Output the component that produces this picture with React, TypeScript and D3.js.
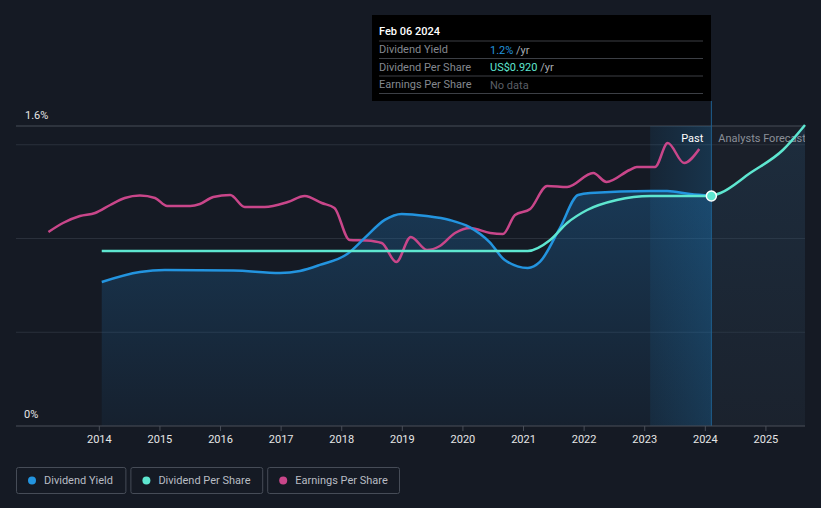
import { useMemo } from 'react'
import { scaleLinear, line, area, curveMonotoneX } from 'd3'

// Dividend yield / DPS / EPS history chart, dark theme.
// x values are decimal years.

const dyYears = [2014.04, 2014.67, 2015.08, 2016.21, 2016.98, 2017.31, 2017.64, 2018.09, 2018.38, 2018.71, 2018.99, 2019.4, 2019.78, 2020.11, 2020.44, 2020.69, 2021.07, 2021.27, 2021.6, 2021.9, 2022.1, 2023.09, 2023.37, 2023.75, 2024.1]
const dyValues = [0.768, 0.821, 0.832, 0.829, 0.816, 0.827, 0.859, 0.917, 1.003, 1.099, 1.131, 1.12, 1.099, 1.061, 0.981, 0.885, 0.843, 0.875, 1.056, 1.232, 1.243, 1.253, 1.253, 1.237, 1.227]

const dpsYears = [2014.04, 2021.07, 2021.44, 2021.72, 2022.05, 2022.54, 2023.09, 2024.1]
const dpsValues = [0.7, 0.7, 0.744, 0.812, 0.864, 0.904, 0.92, 0.92]
const dpsForecastYears = [2024.1, 2024.25, 2024.74, 2025.28, 2025.645]
const dpsForecastValues = [0.92, 0.932, 1.012, 1.104, 1.204]

const epsYears = [2013.16, 2013.4, 2013.68, 2013.93, 2014.18, 2014.42, 2014.67, 2014.92, 2015.12, 2015.5, 2015.66, 2015.88, 2016.16, 2016.4, 2016.73, 2017.11, 2017.39, 2017.67, 2017.88, 2018.13, 2018.41, 2018.66, 2018.9, 2019.14, 2019.41, 2019.62, 2019.87, 2020.12, 2020.45, 2020.66, 2020.86, 2021.11, 2021.39, 2021.72, 2022.15, 2022.37, 2022.75, 2022.87, 2023.17, 2023.38, 2023.65, 2023.9]
const epsValues = [1.94, 2.03, 2.1, 2.13, 2.21, 2.28, 2.305, 2.28, 2.2, 2.2, 2.22, 2.29, 2.31, 2.19, 2.19, 2.24, 2.3, 2.23, 2.18, 1.86, 1.855, 1.83, 1.64, 1.89, 1.76, 1.8, 1.93, 1.98, 1.93, 1.92, 2.11, 2.17, 2.4, 2.39, 2.53, 2.44, 2.56, 2.59, 2.59, 2.83, 2.63, 2.77]

const tickYears = [2014, 2015, 2016, 2017, 2018, 2019, 2020, 2021, 2022, 2023, 2024, 2025]
const yGrid = [0.5, 1.0, 1.5]
const pastStart = 2023.09
const nowYear = 2024.1

const legendItems = [
  { label: 'Dividend Yield', color: '#2394df' },
  { label: 'Dividend Per Share', color: '#5ee6d0' },
  { label: 'Earnings Per Share', color: '#c9468a' },
]

const W = 821
const H = 508
const PLOT = { left: 16, right: 805, top: 126, bottom: 426 }
const FONT = 'Roboto, "Open Sans", sans-serif'

type Pt = [number, number]
const zip = (xs: number[], ys: number[]): Pt[] => xs.map((x, i) => [x, ys[i]])

export default function App() {
  const x = useMemo(() => scaleLinear().domain([2012.625, 2025.645]).range([PLOT.left, PLOT.right]), [])
  const yDY = useMemo(() => scaleLinear().domain([0, 1.6]).range([PLOT.bottom, PLOT.top]), [])
  const yDPS = useMemo(() => scaleLinear().domain([0, 1.2]).range([PLOT.bottom, PLOT.top]), [])
  const yEPS = useMemo(() => scaleLinear().domain([0, 3.0]).range([PLOT.bottom, PLOT.top]), [])

  const dyLine = line<Pt>().x((d) => x(d[0])).y((d) => yDY(d[1])).curve(curveMonotoneX)
  const dyArea = area<Pt>().x((d) => x(d[0])).y0(PLOT.bottom).y1((d) => yDY(d[1])).curve(curveMonotoneX)
  const dpsLine = line<Pt>().x((d) => x(d[0])).y((d) => yDPS(d[1])).curve(curveMonotoneX)
  const dpsArea = area<Pt>().x((d) => x(d[0])).y0(PLOT.bottom).y1((d) => yDPS(d[1])).curve(curveMonotoneX)
  const epsLine = line<Pt>().x((d) => x(d[0])).y((d) => yEPS(d[1])).curve(curveMonotoneX)

  const dy = zip(dyYears, dyValues)
  const dps = zip(dpsYears, dpsValues)
  const dpsF = zip(dpsForecastYears, dpsForecastValues)
  const eps = zip(epsYears, epsValues)

  const xNow = x(nowYear)
  const xPast = x(pastStart)

  const tipRows = [
    { label: 'Dividend Yield', value: '1.2%', color: '#2394df', unit: ' /yr' },
    { label: 'Dividend Per Share', value: 'US$0.920', color: '#5ee6d0', unit: ' /yr' },
    { label: 'Earnings Per Share', value: 'No data', color: '#5b5f66', unit: '' },
  ]

  let lx = 16
  const legend = legendItems.map((it) => {
    const w = it.label.length * 5.6 + 31
    const g = { ...it, x: lx, w }
    lx += w + 5
    return g
  })

  return (
    <div style={{ position: 'fixed', left: 0, top: 0, width: W, height: H }}>
      <svg width={W} height={H} style={{ display: 'block', fontFamily: FONT }}>
        <defs>
          <linearGradient id="dyFill" x1="0" x2="0" y1="0" y2="1">
            <stop offset="0%" stopColor="#1f6aa5" stopOpacity={0.38} />
            <stop offset="100%" stopColor="#1f6aa5" stopOpacity={0.08} />
          </linearGradient>
          <linearGradient id="pastFill" x1="0" x2="1" y1="0" y2="0">
            <stop offset="0%" stopColor="#1f78b4" stopOpacity={0.12} />
            <stop offset="100%" stopColor="#1f78b4" stopOpacity={0.28} />
          </linearGradient>
          <linearGradient id="fcFill" x1="0" x2="0" y1="0" y2="1">
            <stop offset="0%" stopColor="#2a6a9a" stopOpacity={0.18} />
            <stop offset="100%" stopColor="#2a6a9a" stopOpacity={0.04} />
          </linearGradient>
          <clipPath id="plotClip">
            <rect x={PLOT.left} y={0} width={PLOT.right - PLOT.left} height={PLOT.bottom} />
          </clipPath>
        </defs>
        <rect width={W} height={H} fill="#151a24" />

        {/* forecast region */}
        <rect x={xNow} y={PLOT.top} width={PLOT.right - xNow} height={PLOT.bottom - PLOT.top} fill="#ffffff" fillOpacity={0.025} />

        {/* grid */}
        {yGrid.map((v) => (
          <line key={v} x1={PLOT.left} x2={PLOT.right} y1={yDY(v)} y2={yDY(v)} stroke="#2a303b" strokeWidth={1} />
        ))}
        <line x1={PLOT.left} x2={PLOT.right} y1={PLOT.top} y2={PLOT.top} stroke="#464c57" strokeWidth={1} />

        {/* fills */}
        <path d={dyArea(dy) ?? ''} fill="url(#dyFill)" />
        <path d={dpsArea(dpsF) ?? ''} fill="url(#fcFill)" />
        <rect x={xPast} y={PLOT.top} width={xNow - xPast} height={PLOT.bottom - PLOT.top} fill="url(#pastFill)" />
        <line x1={xNow} x2={xNow} y1={101} y2={PLOT.bottom} stroke="#1f5f8f" strokeWidth={1} />

        <text x={xNow - 8} y={138} textAnchor="end" dominantBaseline="central" fontSize={11} fill="#ffffff">
          Past
        </text>
        <g clipPath="url(#plotClip)">
          <text x={xNow + 7} y={138} dominantBaseline="central" fontSize={11} fill="#8a8f98">
            Analysts Forecast
          </text>
        </g>

        {/* lines */}
        <path d={epsLine(eps) ?? ''} fill="none" stroke="#c9468a" strokeWidth={2.5} />
        <path d={dyLine(dy) ?? ''} fill="none" stroke="#2394df" strokeWidth={2.5} />
        <path d={dpsLine(dps) ?? ''} fill="none" stroke="#5ee6d0" strokeWidth={2.5} />
        <path d={dpsLine(dpsF) ?? ''} fill="none" stroke="#5ee6d0" strokeWidth={2.5} />
        <circle cx={xNow} cy={yDPS(0.92)} r={5} fill="#5ee6d0" stroke="#ffffff" strokeWidth={1.5} />

        {/* y labels */}
        <text x={25} y={115} dominantBaseline="central" fontSize={11} fill="#e6e6e6">
          1.6%
        </text>
        <text x={24} y={414} dominantBaseline="central" fontSize={11} fill="#e6e6e6">
          0%
        </text>

        {/* x axis */}
        <line x1={PLOT.left} x2={PLOT.right} y1={PLOT.bottom} y2={PLOT.bottom} stroke="#4a4f59" strokeWidth={1} />
        {tickYears.map((t) => (
          <g key={t} transform={`translate(${x(t)}, ${PLOT.bottom})`}>
            <line y1={0} y2={5} stroke="#4a4f59" />
            <text y={13} textAnchor="middle" dominantBaseline="central" fontSize={11} fill="#e6e6e6">
              {t}
            </text>
          </g>
        ))}

        {/* tooltip */}
        <rect x={372} y={15} width={339} height={86} fill="#000000" />
        <text x={379} y={31} dominantBaseline="central" fontSize={11} fill="#ffffff" fontWeight={500}>
          Feb 06 2024
        </text>
        {[41, 58.5, 76, 93.5].map((yy) => (
          <line key={yy} x1={379} x2={703} y1={yy} y2={yy} stroke="#3c3f45" strokeWidth={1} />
        ))}
        {tipRows.map((r, i) => (
          <g key={r.label}>
            <text x={379} y={49.5 + i * 17.5} dominantBaseline="central" fontSize={11} fill="#84888f">
              {r.label}
            </text>
            <text x={490} y={49.5 + i * 17.5} dominantBaseline="central" fontSize={11}>
              <tspan fill={r.color}>{r.value}</tspan>
              <tspan fill="#a8acb2">{r.unit}</tspan>
            </text>
          </g>
        ))}

        {/* legend */}
        {legend.map((l) => (
          <g key={l.label} transform={`translate(${l.x}, 467)`}>
            <rect x={0.5} y={0.5} width={l.w} height={26} rx={2} fill="none" stroke="#464c57" />
            <circle cx={16} cy={13.5} r={4} fill={l.color} />
            <text x={28} y={13.5} dominantBaseline="central" fontSize={11} fill="#b8bcc3">
              {l.label}
            </text>
          </g>
        ))}
      </svg>
    </div>
  )
}
